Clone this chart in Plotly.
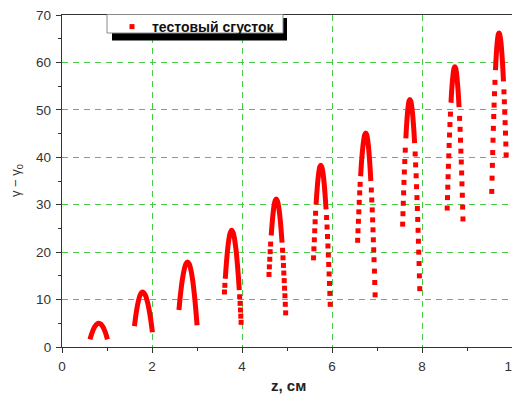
import plotly.graph_objects as go

# ---- data: each arc = solid top section (line) + sparse lower dots ----
arc1_line_z = [0.621, 0.667, 0.723, 0.772, 0.82, 0.866, 0.912, 0.966, 1.010]
arc1_line_y = [1.6, 3.0, 4.2, 4.8, 5.0, 4.8, 4.2, 3.0, 1.6]
arc1_dot_z = []
arc1_dot_y = []

arc2_line_z = [1.610, 1.646, 1.693, 1.738, 1.79, 1.848, 1.899, 1.951, 1.983, 2.009]
arc2_line_y = [4.4, 7.0, 9.5, 11.0, 11.6, 11.0, 9.5, 7.0, 5.0, 3.1]
arc2_dot_z = []
arc2_dot_y = []

arc3_line_z = [2.599, 2.632, 2.671, 2.717, 2.752, 2.79, 2.827, 2.861, 2.905, 2.942, 2.972, 3.002]
arc3_line_y = [7.8, 11.0, 14.0, 16.4, 17.5, 17.9, 17.5, 16.4, 14.0, 11.0, 8.0, 4.6]
arc3_dot_z = []
arc3_dot_y = []

arc4_line_z = [3.628, 3.652, 3.680, 3.710, 3.736, 3.77, 3.807, 3.834, 3.867, 3.897, 3.922, 3.939]
arc4_line_y = [14.4, 17.5, 20.5, 22.8, 24.0, 24.6, 24.0, 22.8, 20.5, 17.5, 14.5, 12.0]
arc4_dot_z = [3.610, 3.619, 3.948, 3.957, 3.966, 3.973, 3.980]
arc4_dot_y = [11.6, 13.0, 10.6, 9.2, 7.8, 6.5, 5.2]

arc5_line_z = [4.649, 4.669, 4.692, 4.716, 4.735, 4.76, 4.787, 4.807, 4.833, 4.862, 4.890]
arc5_line_y = [23.5, 26.0, 28.3, 30.0, 30.8, 31.2, 30.8, 30.0, 28.3, 25.5, 22.0]
arc5_dot_z = [4.600, 4.608, 4.617, 4.626, 4.636,
              4.901, 4.911, 4.921, 4.929, 4.938, 4.946, 4.954, 4.962, 4.970]
arc5_dot_y = [15.3, 16.9, 18.5, 20.1, 21.7,
              20.4, 18.8, 17.2, 15.6, 14.0, 12.4, 10.8, 9.0, 7.2]

arc6_line_z = [5.646, 5.667, 5.691, 5.714, 5.730, 5.75, 5.771, 5.789, 5.814, 5.843, 5.868]
arc6_line_y = [30.0, 33.0, 35.6, 37.3, 38.0, 38.3, 38.0, 37.3, 35.6, 32.5, 29.0]
arc6_dot_z = [5.590, 5.598, 5.607, 5.616, 5.625, 5.635,
              5.879, 5.890, 5.900, 5.910, 5.919, 5.927, 5.936, 5.944, 5.952, 5.960]
arc6_dot_y = [18.8, 20.7, 22.6, 24.5, 26.4, 28.2,
              27.3, 25.3, 23.3, 21.3, 19.4, 17.4, 15.4, 13.4, 11.3, 9.0]

arc7_line_z = [6.636, 6.660, 6.687, 6.712, 6.729, 6.75, 6.770, 6.786, 6.810, 6.838, 6.863]
arc7_line_y = [36.0, 39.5, 42.3, 44.1, 44.8, 45.1, 44.8, 44.1, 42.3, 39.0, 35.0]
arc7_dot_z = [6.570, 6.578, 6.587, 6.596, 6.605, 6.615, 6.625,
              6.874, 6.884, 6.894, 6.903, 6.911, 6.919, 6.927, 6.934, 6.943, 6.950, 6.958]
arc7_dot_y = [22.5, 24.5, 26.5, 28.5, 30.5, 32.5, 34.3,
              33.1, 31.0, 28.9, 26.8, 24.7, 22.6, 20.5, 18.4, 16.0, 13.6, 11.0]

arc8_line_z = [7.641, 7.659, 7.680, 7.699, 7.713, 7.73, 7.749, 7.765, 7.786, 7.813, 7.836]
arc8_line_y = [44.0, 47.0, 49.6, 51.2, 51.9, 52.2, 51.9, 51.2, 49.6, 46.5, 43.0]
arc8_dot_z = [7.570, 7.577, 7.584, 7.592, 7.599, 7.608, 7.617, 7.628,
              7.848, 7.859, 7.870, 7.879, 7.888, 7.897, 7.905, 7.913, 7.920, 7.927, 7.935, 7.942, 7.950]
arc8_dot_y = [25.9, 28.1, 30.3, 32.5, 34.7, 36.9, 39.1, 41.5,
              40.7, 38.4, 36.1, 33.8, 31.5, 29.2, 26.9, 24.6, 22.3, 20.0, 17.6, 15.0, 12.3]

arc9_line_z = [8.644, 8.663, 8.685, 8.704, 8.716, 8.73, 8.744, 8.757, 8.776, 8.802, 8.823]
arc9_line_y = [51.5, 54.5, 57.0, 58.4, 58.9, 59.1, 58.9, 58.4, 57.0, 54.0, 50.6]
arc9_dot_z = [8.560, 8.567, 8.573, 8.580, 8.587, 8.595, 8.603, 8.612, 8.621, 8.632,
              8.835, 8.846, 8.855, 8.864, 8.873, 8.881, 8.888, 8.896, 8.903, 8.910]
arc9_dot_y = [29.3, 31.5, 33.7, 35.9, 38.1, 40.3, 42.5, 44.7, 46.9, 49.1,
              48.2, 45.9, 43.6, 41.3, 39.0, 36.7, 34.4, 32.0, 29.5, 27.0]

arc10_line_z = [9.633, 9.650, 9.669, 9.687, 9.698, 9.71, 9.724, 9.736, 9.757, 9.785, 9.811]
arc10_line_y = [58.4, 61.5, 64.0, 65.5, 66.0, 66.2, 66.0, 65.5, 64.0, 60.5, 56.0]
arc10_dot_z = [9.550, 9.557, 9.564, 9.571, 9.578, 9.586, 9.594, 9.602, 9.611, 9.621,
               9.821, 9.830, 9.839, 9.847, 9.855, 9.863, 9.870]
arc10_dot_y = [32.8, 35.6, 38.3, 41.0, 43.6, 46.1, 48.6, 51.0, 53.4, 55.8,
               53.8, 51.7, 49.5, 47.3, 45.1, 42.8, 40.5]

x_ticks = [0, 2, 4, 6, 8, 10]
y_ticks = [0, 10, 20, 30, 40, 50, 60, 70]
series_name = "тестовый сгусток"

line_sets = [(arc1_line_z, arc1_line_y), (arc2_line_z, arc2_line_y), (arc3_line_z, arc3_line_y),
             (arc4_line_z, arc4_line_y), (arc5_line_z, arc5_line_y), (arc6_line_z, arc6_line_y),
             (arc7_line_z, arc7_line_y), (arc8_line_z, arc8_line_y), (arc9_line_z, arc9_line_y),
             (arc10_line_z, arc10_line_y)]
dot_sets = [(arc1_dot_z, arc1_dot_y), (arc2_dot_z, arc2_dot_y), (arc3_dot_z, arc3_dot_y),
            (arc4_dot_z, arc4_dot_y), (arc5_dot_z, arc5_dot_y), (arc6_dot_z, arc6_dot_y),
            (arc7_dot_z, arc7_dot_y), (arc8_dot_z, arc8_dot_y), (arc9_dot_z, arc9_dot_y),
            (arc10_dot_z, arc10_dot_y)]

lz, ly = [], []
for zs, ys in line_sets:
    lz += list(zs) + [None]
    ly += list(ys) + [None]
dz, dy = [], []
for zs, ys in dot_sets:
    dz += list(zs)
    dy += list(ys)

# page body has an 8px default margin: figure is shrunk/offset to compensate
OFF = 8
W, H = 520 - OFF, 396 - OFF
# plot-area geometry in window pixels
L, R, T, B = 62, 512, 15, 347
PW, PH = R - L, B - T
def px(xp):
    return (xp - L) / PW
def py(yp):
    return (B - yp) / PH

RED = "#ff0000"
fig = go.Figure()
fig.add_trace(go.Scatter(x=lz, y=ly, mode="lines", line=dict(color=RED, width=5, shape="spline"),
                         connectgaps=False, showlegend=False, legendgroup="g", hoverinfo="skip"))
fig.add_trace(go.Scatter(x=dz, y=dy, mode="markers", name=series_name, legendgroup="g",
                         marker=dict(symbol="square", size=5, color=RED, line=dict(width=0))))

FONT = "Liberation Sans, Arial, sans-serif"
AX = "#333333"
GRID = "#44cc44"
fig.update_layout(
    width=W, height=H,
    margin=dict(l=L - OFF, r=520 - R, t=T - OFF, b=396 - B, autoexpand=False),
    paper_bgcolor="white", plot_bgcolor="white",
    font=dict(family=FONT, size=13, color=AX),
    showlegend=True,
    legend=dict(x=px(112), y=py(27), xanchor="left", yanchor="middle",
                bgcolor="rgba(0,0,0,0)", borderwidth=0,
                font=dict(family=FONT, size=14, color="#111111", weight="bold")),
    shapes=[
        dict(type="rect", xref="paper", yref="paper",
             x0=px(112), x1=px(287), y0=py(40.5), y1=py(18),
             fillcolor="black", line=dict(width=0), layer="above"),
        dict(type="rect", xref="paper", yref="paper",
             x0=px(107), x1=px(283), y0=py(33), y1=py(14.5),
             fillcolor="white", line=dict(width=1, color="#8a8a8a"), layer="above"),
    ],
    annotations=[
        dict(text="z, см", xref="paper", yref="paper", x=px(288), y=py(386),
             xanchor="center", yanchor="middle", showarrow=False,
             font=dict(family=FONT, size=15, color="#222222", weight="bold")),
        dict(text="γ − γ<sub>0</sub>", xref="paper", yref="paper", x=px(16),
             y=py(181), xanchor="center", yanchor="middle", textangle=-90,
             showarrow=False, font=dict(family=FONT, size=13, color=AX)),
    ],
)
fig.update_xaxes(range=[0, 10], tickvals=x_ticks, ticktext=[str(v) for v in x_ticks],
                 ticks="outside", ticklen=5, tickwidth=1.3, tickcolor=AX, automargin=False,
                 ticklabeloverflow="allow", ticklabelstandoff=2,
                 minor=dict(dtick=1, ticks="outside", ticklen=3, tickcolor=AX, showgrid=False),
                 showline=True, linecolor=AX, linewidth=1.3, mirror=True,
                 showgrid=True, gridcolor=GRID, gridwidth=1, griddash="6px,5px",
                 zeroline=False, tickfont=dict(size=13.5, color=AX))
fig.update_yaxes(range=[0, 70], tickvals=y_ticks, ticktext=[str(v) for v in y_ticks],
                 ticks="outside", ticklen=5, tickwidth=1.3, tickcolor=AX, automargin=False,
                 ticklabeloverflow="allow", ticklabelstandoff=2,
                 minor=dict(dtick=5, ticks="outside", ticklen=3, tickcolor=AX, showgrid=False),
                 showline=True, linecolor=AX, linewidth=1.3, mirror=True,
                 showgrid=True, gridcolor=GRID, gridwidth=1, griddash="6px,5px",
                 zeroline=False, tickfont=dict(size=13.5, color=AX))

fig.write_html("out.html")
